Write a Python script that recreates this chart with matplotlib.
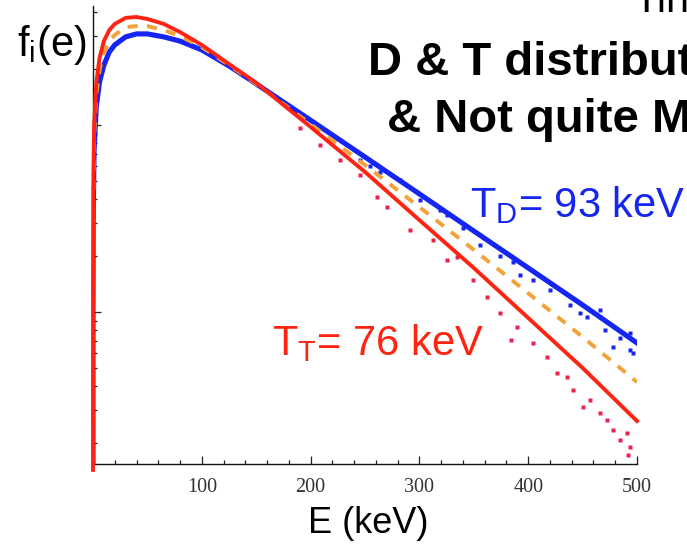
import matplotlib
matplotlib.use("Agg")
import matplotlib.pyplot as plt
from matplotlib.ticker import FixedLocator, MultipleLocator, LogLocator, NullFormatter

plt.rcParams["font.family"] = ["Liberation Sans", "DejaVu Sans"]
plt.rcParams["mathtext.fontset"] = "custom"
plt.rcParams["mathtext.rm"] = "Liberation Sans"

# Fitted distributions (counts per bin) against energy in keV
energy = [0.0002, 0.002, 0.02, 0.2, 1, 3, 6, 10, 15, 20, 30, 40, 50, 65, 80,
          100, 125, 150, 200, 250, 300, 350, 400, 450, 500]
f_tritium = [1.43, 4.55, 14.3, 44.9, 100, 168, 228, 281, 322, 347, 374, 378, 369, 347, 314,
             268, 212, 168, 97.6, 56.1, 31.0, 17.2, 9.29, 5.02, 2.61]
f_deuterium = [1.05, 3.30, 10.5, 33.0, 73.5, 125, 170, 209, 246, 268, 296, 307, 307, 296, 281,
               252, 207, 166, 106, 67.4, 42.8, 27.1, 17.2, 10.9, 6.83]
f_mean = [1.23, 3.87, 12.2, 38.3, 85.2, 145, 197, 243, 281, 303, 334, 338, 338, 322, 299,
          261, 209, 166, 101, 61.1, 36.4, 21.5, 12.6, 7.35, 4.22]

# Simulated particle samples in the tail
tritium_E = [190.3, 208.6, 227.0, 245.4, 261.0, 270.2, 291.4, 312.5, 325.4, 334.6,
             349.3, 362.1, 374.1, 384.2, 389.7, 404.4, 417.3, 426.5, 435.7, 441.2,
             450.4, 456.8, 466.0, 472.4, 477.9, 484.4, 490.8, 493.6, 491.7, 497.2]
tritium_f = [96.4, 78.2, 65.0, 54.0, 41.2, 36.4, 27.5, 24.3, 19.0, 19.7,
             14.8, 12.0, 9.88, 7.09, 8.32, 6.83, 5.75, 4.72, 4.49, 3.83,
             3.10, 3.38, 2.88, 2.65, 2.34, 2.07, 2.25, 1.90, 1.72, 1.47]
deuterium_E = [245.4, 254.6, 263.8, 282.2, 318.9, 325.4, 340.1, 374.1, 386.0, 404.4,
               420.0, 447.6, 454.0, 466.0, 477.9, 493.6, 493.6, 496.3, 484.4, 438.4,
               392.5, 355.7, 300.6, 470.6]
deuterium_f = [65.0, 60.4, 56.1, 50.8, 35.1, 33.0, 28.1, 19.9, 18.5, 14.8,
               13.1, 9.88, 9.40, 10.2, 6.50, 7.72, 6.26, 6.04, 7.26, 10.9,
               15.8, 22.8, 39.7, 8.01]

x_ticks = [100, 200, 300, 400, 500]

red = "#ff2412"
blue = "#1626f2"
orange = "#f2a238"

W, H = 687, 544
fig = plt.figure(figsize=(W / 100, H / 100), dpi=100)
ax = fig.add_axes([93 / W, 80 / H, 544 / W, 458 / H])

ax.plot(deuterium_E, deuterium_f, ls="none", marker="s", ms=2.4, mec="none", color=blue)
ax.plot(tritium_E, tritium_f, ls="none", marker="s", ms=2.4, mec="none", color="#e8244e")
ax.plot(energy, f_deuterium, color=blue, lw=3.7)
ax.plot(energy, f_mean, color=orange, lw=2.8, dashes=(2.6, 2.4))
# the tritium curve rises straight up the axis near E = 0, so let it draw over the spine
ax.plot(energy, f_tritium, color=red, lw=2.8, zorder=3, clip_on=False)

ax.set_yscale("log")
ax.set_xlim(0, 500)
ax.set_ylim(1.538, 432.9)

for side in ("top", "right"):
    ax.spines[side].set_visible(False)
for side in ("left", "bottom"):
    ax.spines[side].set_linewidth(1.0)
    ax.spines[side].set_color("#111111")

ax.xaxis.set_major_locator(FixedLocator(x_ticks))
ax.xaxis.set_minor_locator(MultipleLocator(20))
ax.yaxis.set_major_locator(LogLocator(base=10))
ax.yaxis.set_minor_locator(LogLocator(base=10, subs=range(2, 10)))
ax.yaxis.set_major_formatter(NullFormatter())
ax.yaxis.set_minor_formatter(NullFormatter())
ax.tick_params(which="both", direction="in", color="#222222", width=0.9)
ax.tick_params(which="major", length=6)
ax.tick_params(which="minor", length=3)
ax.tick_params(axis="x", which="major", pad=10, labelsize=14.5, labelcolor="#333333")
for lbl in ax.get_xticklabels():
    lbl.set_family("Liberation Serif")


def put(x, y, s, **kw):
    fig.text(x / W, 1 - y / H, s, va="baseline", ha="left", **kw)


put(17, 56, r"f$_\mathrm{i}$(e)", fontsize=30)
put(308, 533, "E (keV)", fontsize=26)
put(633, 12, "Tin", fontsize=30)
put(368, 75, "D & T distribut", fontsize=34, fontweight="bold")
put(387, 132, "& Not quite M", fontsize=34, fontweight="bold")
put(470, 217, r"T$_\mathrm{D}$= 93 keV", fontsize=30, color=blue)
put(272, 355, r"T$_\mathrm{T}$= 76 keV", fontsize=30, color=red)

fig.savefig("out.png", dpi=100, facecolor="white")
